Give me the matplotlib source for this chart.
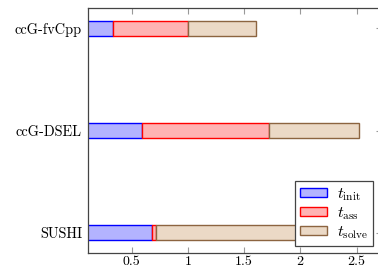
import matplotlib
matplotlib.use('Agg')
import matplotlib.pyplot as plt

plt.rcParams['font.family'] = 'cmr10'
plt.rcParams['mathtext.fontset'] = 'cm'
plt.rcParams['axes.formatter.use_mathtext'] = True

# Timings per code (seconds)
codes = ['SUSHI', 'ccG-DSEL', 'ccG-fvCpp']
t_init = [0.68, 0.59, 0.33]
t_ass = [0.04, 1.13, 0.67]
t_solve = [1.28, 0.80, 0.61]
labels = [r'$t_{\mathrm{init}}$', r'$t_{\mathrm{ass}}$', r'$t_{\mathrm{solve}}$']

fills = ['#b3b3ff', '#ffb3b3', '#ebd9c6']
edges = ['#0000ff', '#ff0000', '#8c6440']

fig = plt.figure(figsize=(3.78, 2.69), dpi=100)
ax = fig.add_axes([87.5 / 378, 16 / 269, 291.5 / 378, 245 / 269])

pos = list(range(len(codes)))
left = [0.0] * len(codes)
for vals, fc, ec, lab in zip([t_init, t_ass, t_solve], fills, edges, labels):
    ax.barh(pos, vals, left=left, height=0.154, color=fc, edgecolor=ec,
            linewidth=1.0, label=lab)
    left = [a + b for a, b in zip(left, vals)]

ax.set_xlim(0.107, 2.7)
ax.set_ylim(-0.2, 2.2)
ax.set_yticks(pos)
ax.set_yticklabels(codes, fontsize=10.3)
ax.set_xticks([0.5, 1, 1.5, 2, 2.5])
ax.set_xticklabels(['0.5', '1', '1.5', '2', '2.5'], fontsize=10)
ax.tick_params(axis='x', direction='in', length=4, color='#999999',
               top=True, width=0.8, pad=2)
ax.tick_params(axis='y', direction='in', length=2, color='#999999',
               right=True, left=False, width=0.8, pad=4)
for s in ax.spines.values():
    s.set_color('#444444')
    s.set_linewidth(0.9)

leg = ax.legend(loc='lower right', bbox_to_anchor=(0.979, 0.029),
                borderaxespad=0, fontsize=11.5, handlelength=1.7,
                handleheight=0.5, handletextpad=0.6, borderpad=0.3,
                labelspacing=0.15, fancybox=False, framealpha=1,
                edgecolor='#444444')
leg.get_frame().set_linewidth(0.9)

fig.savefig('out.png', dpi=100)
